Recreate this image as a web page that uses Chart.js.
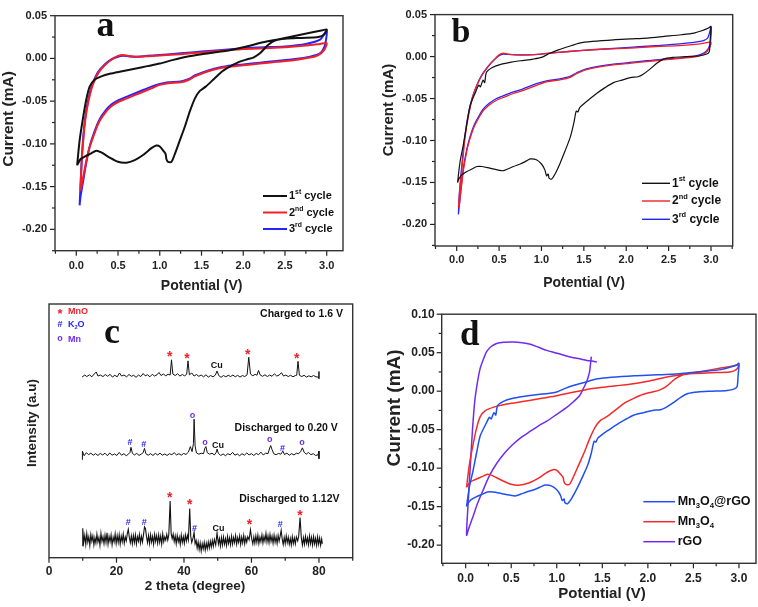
<!DOCTYPE html>
<html>
<head>
<meta charset="utf-8">
<script src="https://cdn.jsdelivr.net/npm/chart.js@4.4.0/dist/chart.umd.min.js"></script>
<style>
  body { margin: 0; background: #fff; width: 758px; height: 607px; position: relative; overflow: hidden; }
  canvas { position: absolute; }
</style>
</head>
<body>
<canvas id="ca" width="380" height="300" style="left:0;top:0"></canvas>
<canvas id="cb" width="378" height="300" style="left:380px;top:0"></canvas>
<canvas id="cc" width="380" height="307" style="left:0;top:300px"></canvas>
<canvas id="cd" width="378" height="307" style="left:380px;top:300px"></canvas>
<script>
// ---- data (potential V, current mA) ----
const cvXTicks = [0, 0.5, 1.0, 1.5, 2.0, 2.5, 3.0];
const cvYTicks = [0.05, 0, -0.05, -0.10, -0.15, -0.20];
const dYTicks = [0.10, 0.05, 0, -0.05, -0.10, -0.15, -0.20];
const xrdTicks = [0, 20, 40, 60, 80];

const aCycle1 = [[0.01,-0.125],[0.04,-0.096],[0.08,-0.07],[0.12,-0.048],[0.16,-0.033],[0.22,-0.025],[0.3,-0.021],[0.4,-0.018],[0.55,-0.015],[0.7,-0.012],[0.85,-0.009],[1.0,-0.006],[1.15,-0.002],[1.32,0.002],[1.5,0.005],[1.65,0.007],[1.8,0.009],[2.0,0.013],[2.2,0.018],[2.4,0.022],[2.6,0.026],[2.8,0.030],[2.95,0.033],[3.0,0.034],
  [2.97,0.028],[2.9,0.025],[2.7,0.024],[2.5,0.023],[2.38,0.021],[2.3,0.016],[2.2,0.006],[2.12,0.001],[2.05,-0.001],[1.95,-0.004],[1.85,-0.009],[1.75,-0.015],[1.65,-0.024],[1.55,-0.033],[1.48,-0.038],[1.42,-0.047],[1.36,-0.062],[1.3,-0.08],[1.24,-0.096],[1.18,-0.112],[1.14,-0.121],[1.1,-0.121],[1.08,-0.118],[1.07,-0.112],[1.05,-0.109],[1.0,-0.103],[0.96,-0.102],[0.9,-0.105],[0.8,-0.113],[0.7,-0.119],[0.6,-0.122],[0.5,-0.121],[0.4,-0.116],[0.3,-0.110],[0.24,-0.108],[0.18,-0.111],[0.1,-0.115],[0.05,-0.118],[0.01,-0.125]];
const aCycle2 = [[0.05,-0.155],[0.06,-0.13],[0.08,-0.1],[0.11,-0.07],[0.15,-0.048],[0.2,-0.03],[0.27,-0.016],[0.35,-0.007],[0.43,-0.001],[0.5,0.003],[0.56,0.004],[0.62,0.003],[0.72,0.002],[0.85,0.0025],[1.0,0.0035],[1.25,0.005],[1.5,0.007],[1.75,0.009],[2.0,0.011],[2.25,0.012],[2.5,0.013],[2.75,0.015],[2.92,0.017],[3.0,0.018],
  [2.97,0.010],[2.9,0.004],[2.8,0.001],[2.6,-0.002],[2.4,-0.004],[2.2,-0.006],[2.0,-0.008],[1.8,-0.010],[1.65,-0.013],[1.52,-0.017],[1.42,-0.021],[1.35,-0.025],[1.25,-0.028],[1.1,-0.029],[1.0,-0.031],[0.9,-0.035],[0.8,-0.039],[0.7,-0.043],[0.6,-0.047],[0.5,-0.051],[0.42,-0.056],[0.35,-0.063],[0.28,-0.073],[0.22,-0.087],[0.16,-0.104],[0.12,-0.12],[0.08,-0.14],[0.05,-0.155]];
const aCycle3 = [[0.04,-0.172],[0.05,-0.15],[0.07,-0.11],[0.1,-0.075],[0.14,-0.05],[0.19,-0.031],[0.26,-0.016],[0.34,-0.007],[0.42,-0.001],[0.5,0.002],[0.56,0.003],[0.62,0.0025],[0.72,0.002],[0.85,0.003],[1.0,0.004],[1.25,0.006],[1.5,0.008],[1.75,0.010],[2.0,0.012],[2.25,0.013],[2.5,0.014],[2.75,0.017],[2.92,0.022],[3.0,0.033],
  [2.98,0.016],[2.92,0.006],[2.8,0.002],[2.6,-0.001],[2.4,-0.003],[2.2,-0.005],[2.0,-0.007],[1.8,-0.009],[1.65,-0.012],[1.52,-0.016],[1.42,-0.020],[1.35,-0.024],[1.25,-0.027],[1.1,-0.028],[1.0,-0.030],[0.9,-0.033],[0.8,-0.037],[0.7,-0.041],[0.6,-0.045],[0.5,-0.049],[0.42,-0.054],[0.35,-0.061],[0.28,-0.071],[0.22,-0.085],[0.16,-0.103],[0.12,-0.122],[0.08,-0.145],[0.05,-0.162],[0.04,-0.172]];

const bCycle1 = [[0.01,-0.15],[0.04,-0.125],[0.08,-0.104],[0.12,-0.08],[0.16,-0.058],[0.22,-0.043],[0.26,-0.034],[0.28,-0.036],[0.31,-0.028],[0.33,-0.031],[0.35,-0.019],[0.42,-0.013],[0.51,-0.0096],[0.63,-0.007],[0.75,-0.005],[0.9,-0.003],[1.0,-0.001],[1.1,0.004],[1.2,0.008],[1.32,0.012],[1.45,0.016],[1.6,0.018],[1.85,0.020],[2.05,0.021],[2.25,0.022],[2.45,0.024],[2.65,0.026],[2.8,0.028],[2.9,0.031],[2.97,0.034],[3.0,0.036],
  [2.99,0.02],[2.98,0.006],[2.95,0.003],[2.87,0.001],[2.7,0.0],[2.55,-0.001],[2.44,-0.003],[2.36,-0.008],[2.28,-0.015],[2.2,-0.021],[2.14,-0.024],[2.05,-0.025],[1.95,-0.028],[1.85,-0.031],[1.75,-0.037],[1.65,-0.044],[1.55,-0.052],[1.48,-0.058],[1.45,-0.061],[1.43,-0.066],[1.41,-0.065],[1.38,-0.080],[1.34,-0.096],[1.28,-0.112],[1.22,-0.127],[1.16,-0.14],[1.12,-0.146],[1.09,-0.145],[1.08,-0.140],[1.06,-0.142],[1.04,-0.135],[1.0,-0.128],[0.94,-0.123],[0.87,-0.122],[0.83,-0.124],[0.75,-0.128],[0.67,-0.131],[0.6,-0.134],[0.55,-0.136],[0.48,-0.135],[0.39,-0.133],[0.3,-0.131],[0.24,-0.131],[0.18,-0.134],[0.12,-0.137],[0.06,-0.141],[0.03,-0.145],[0.01,-0.15]];
const bCycle2 = [[0.02,-0.18],[0.04,-0.155],[0.07,-0.125],[0.1,-0.095],[0.14,-0.07],[0.19,-0.048],[0.24,-0.034],[0.3,-0.022],[0.37,-0.012],[0.44,-0.004],[0.5,0.002],[0.55,0.004],[0.6,0.003],[0.7,0.002],[0.85,0.002],[1.0,0.003],[1.2,0.005],[1.45,0.007],[1.75,0.009],[2.04,0.010],[2.35,0.012],[2.63,0.013],[2.87,0.015],[3.0,0.017],
  [2.98,0.010],[2.93,0.004],[2.83,0.0],[2.65,-0.002],[2.44,-0.004],[2.24,-0.006],[2.04,-0.008],[1.85,-0.010],[1.65,-0.013],[1.52,-0.016],[1.42,-0.020],[1.33,-0.025],[1.2,-0.028],[1.06,-0.030],[0.95,-0.034],[0.87,-0.037],[0.77,-0.041],[0.67,-0.044],[0.57,-0.048],[0.47,-0.052],[0.38,-0.058],[0.31,-0.065],[0.25,-0.075],[0.2,-0.085],[0.15,-0.1],[0.12,-0.112],[0.08,-0.135],[0.05,-0.16],[0.03,-0.178],[0.02,-0.18]];
const bCycle3 = [[0.02,-0.188],[0.03,-0.165],[0.06,-0.13],[0.09,-0.1],[0.13,-0.072],[0.18,-0.05],[0.23,-0.036],[0.29,-0.023],[0.36,-0.013],[0.43,-0.005],[0.5,0.001],[0.55,0.003],[0.6,0.0025],[0.7,0.002],[0.85,0.002],[1.0,0.003],[1.2,0.005],[1.45,0.007],[1.75,0.009],[2.04,0.011],[2.35,0.013],[2.63,0.015],[2.87,0.018],[2.96,0.022],[3.0,0.035],
  [2.99,0.015],[2.94,0.006],[2.83,0.001],[2.65,-0.0015],[2.44,-0.003],[2.24,-0.005],[2.04,-0.007],[1.85,-0.009],[1.65,-0.012],[1.52,-0.015],[1.42,-0.019],[1.33,-0.024],[1.2,-0.027],[1.06,-0.029],[0.95,-0.032],[0.87,-0.035],[0.77,-0.039],[0.67,-0.042],[0.57,-0.046],[0.47,-0.050],[0.38,-0.056],[0.31,-0.063],[0.25,-0.073],[0.2,-0.083],[0.15,-0.098],[0.12,-0.11],[0.08,-0.132],[0.05,-0.158],[0.03,-0.178],[0.02,-0.188]];

// panel d: the composite and bare Mn3O4 first cycles, plus rGO
const dComposite = bCycle1;
const dMn3O4 = aCycle1;
const dRGO = [[1.38,0.045],[1.37,0.035],[1.36,0.025],[1.33,0.013],[1.29,0.003],[1.25,-0.006],[1.18,-0.014],[1.11,-0.021],[1.0,-0.03],[0.89,-0.039],[0.8,-0.045],[0.71,-0.052],[0.61,-0.06],[0.52,-0.069],[0.43,-0.08],[0.34,-0.094],[0.26,-0.11],[0.19,-0.129],[0.13,-0.146],[0.08,-0.163],[0.04,-0.176],[0.01,-0.187],[0.03,-0.14],[0.05,-0.099],[0.075,-0.05],[0.1,-0.013],[0.13,0.012],[0.16,0.030],[0.2,0.043],[0.23,0.0515],[0.28,0.058],[0.34,0.062],[0.42,0.0635],[0.52,0.064],[0.62,0.063],[0.71,0.061],[0.8,0.057],[0.89,0.053],[0.98,0.050],[1.07,0.047],[1.16,0.044],[1.25,0.042],[1.33,0.040],[1.40,0.039],[1.44,0.038]];

// panel c: XRD (2 theta, intensity a.u.)
const cCharged = [[9.8,71.2],[10.6,72.0],[11.2,71.4],[12,72.1],[12.7,71.3],[13.4,72.4],[14,73.2],[14.5,71.6],[15.2,72.0],[16,71.4],[16.7,72.2],[17.4,71.5],[18.1,72.3],[18.8,71.2],[19.5,71.9],[20.2,71.3],[20.9,72.8],[21.5,71.6],[22.2,72.0],[23,71.3],[23.7,72.2],[24.4,71.5],[25.1,71.9],[25.8,71.1],[26.5,72.0],[27.2,71.4],[27.9,72.6],[28.5,71.7],[29.2,72.1],[29.9,71.3],[30.6,72.3],[31.3,71.6],[32,72.1],[32.6,73.0],[33.2,71.8],[33.9,72.4],[34.6,71.7],[35.3,72.3],[35.9,72.0],[36.3,78.0],[36.7,72.4],[37.4,71.8],[38.1,72.5],[38.8,71.6],[39.5,72.2],[40.2,71.7],[40.8,72.3],[41.2,77.6],[41.6,72.1],[42.3,72.8],[43,71.6],[43.7,72.2],[44.4,71.5],[45.1,72.0],[45.8,71.3],[46.5,72.1],[47.2,71.2],[47.9,71.8],[48.6,71.3],[49.3,72.0],[49.8,73.6],[50.3,71.8],[51,71.1],[51.7,71.8],[52.4,71.3],[53.1,71.9],[53.8,71.4],[54.5,72.0],[55.2,71.3],[55.9,71.9],[56.6,71.2],[57.3,71.8],[58,71.4],[58.7,72.1],[59.2,79.0],[59.7,72.4],[60.4,71.7],[61.1,72.3],[61.6,71.9],[62.1,73.8],[62.6,72.0],[63.3,71.5],[64,72.1],[64.7,71.4],[65.4,72.0],[66.1,71.5],[66.8,72.5],[67.5,71.6],[68.2,72.0],[68.9,72.9],[69.5,71.6],[70.2,72.0],[70.9,71.4],[71.6,71.9],[72.3,71.3],[73,71.8],[73.4,71.9],[73.8,77.4],[74.2,71.9],[74.9,71.4],[75.6,71.9],[76.3,71.2],[77,71.7],[77.7,71.3],[78.4,71.8],[79.1,71.3],[79.8,71.2],[80,73.4],[80,70.6]];
const cDis020 = [[9.9,38.6],[9.9,42.0],[10.4,40.2],[11.1,41.4],[11.7,40.6],[12.4,41.2],[13.1,40.4],[13.8,41.0],[14.5,40.3],[15.2,41.1],[15.9,40.5],[16.6,41.2],[17.3,40.2],[18,41.3],[18.7,40.4],[19.4,40.9],[20.1,40.3],[20.8,41.5],[21.5,40.4],[22.2,41.0],[22.9,40.2],[23.6,40.9],[24.0,41.5],[24.3,43.5],[24.7,41.2],[25.3,40.5],[26,41.1],[26.7,40.3],[27.4,40.9],[27.9,41.4],[28.3,43.1],[28.7,41.0],[29.4,40.4],[30.1,41.0],[30.8,40.3],[31.5,41.1],[32.2,40.5],[32.9,41.2],[33.6,40.4],[34.3,40.9],[35,40.3],[35.7,41.0],[36.4,40.6],[37.1,41.4],[37.8,40.5],[38.5,41.0],[39.2,40.4],[39.9,41.1],[40.6,40.7],[41.3,41.6],[41.9,43.8],[42.4,41.8],[42.8,45.0],[43.0,54.6],[43.3,44.0],[43.7,41.3],[44.4,40.8],[45.1,41.2],[45.8,41.0],[46.2,43.2],[46.5,43.8],[46.9,41.4],[47.6,40.8],[48.3,41.2],[49,40.5],[49.5,41.4],[49.8,42.8],[50.2,41.1],[50.9,40.3],[51.6,40.9],[52.3,40.2],[53,41.0],[53.7,40.5],[54.4,41.5],[55.1,40.4],[55.8,40.9],[56.5,40.2],[57.2,41.0],[57.9,40.4],[58.6,41.3],[59.3,40.5],[60,41.0],[60.7,40.3],[61.4,41.1],[62.1,40.6],[62.8,41.6],[63.5,40.5],[64.2,41.2],[64.9,41.0],[65.4,43.2],[65.7,44.2],[66.1,42.6],[66.6,41.0],[67.3,40.6],[68,41.1],[68.7,40.8],[69.3,42.0],[69.8,40.7],[70.5,41.2],[71.2,40.4],[71.9,41.0],[72.6,40.5],[73.3,41.2],[74,41.0],[74.6,41.9],[75.1,43.3],[75.6,41.6],[76.2,40.8],[76.9,41.5],[77.6,40.6],[78.3,41.0],[79,40.3],[79.7,40.5],[80,42.0],[80,39.0]];
const cDis112 = [[10,4.5],[10,11.6],[10.3,6],[10.6,8.8],[10.9,5.2],[11.2,9.5],[11.5,6.1],[11.8,8.2],[12.1,4.8],[12.4,9.1],[12.7,6.5],[13,8.6],[13.3,5.0],[13.6,7.9],[13.9,5.8],[14.2,9.3],[14.5,6.2],[14.8,8.0],[15.1,4.9],[15.4,9.6],[15.7,6.4],[16,8.3],[16.3,5.5],[16.6,8.9],[16.9,6.0],[17.2,9.8],[17.5,5.3],[17.8,8.4],[18.1,6.3],[18.4,9.0],[18.7,5.1],[19,8.1],[19.3,6.2],[19.6,9.4],[19.9,5.6],[20.2,8.7],[20.5,6.0],[20.8,9.1],[21.1,5.4],[21.4,8.5],[21.7,6.3],[22,9.3],[22.3,5.7],[22.6,8.2],[22.9,6.6],[23.2,9.5],[23.5,11.2],[23.8,8.0],[24.1,5.9],[24.4,8.6],[24.7,5.5],[25,8.8],[25.3,6.0],[25.6,9.0],[25.9,5.4],[26.2,8.3],[26.5,6.5],[26.8,9.2],[27.1,5.8],[27.4,8.5],[27.7,6.2],[28.0,9.0],[28.3,12.1],[28.6,11.4],[28.9,8.2],[29.2,5.9],[29.5,8.8],[29.8,5.6],[30.1,9.1],[30.4,6.1],[30.7,8.4],[31,5.3],[31.3,9.2],[31.6,6.4],[31.9,8.7],[32.2,5.7],[32.5,9.0],[32.8,6.0],[33.1,8.6],[33.4,5.4],[33.7,9.4],[34,6.3],[34.3,8.2],[34.6,6.9],[34.9,9.2],[35.2,7.0],[35.5,9.0],[35.9,22.3],[36.2,9.5],[36.5,7.5],[36.8,9.3],[37.1,6.4],[37.4,8.6],[37.7,5.5],[38,8.8],[38.3,6.3],[38.6,8.1],[38.9,5.2],[39.2,8.9],[39.5,6.0],[39.8,8.3],[40.1,5.7],[40.4,9.0],[40.7,6.5],[41.0,8.8],[41.3,7.0],[41.7,19.4],[42.0,8.5],[42.3,6.0],[42.7,7.8],[43.0,10.0],[43.3,5.5],[43.6,6.8],[43.9,3.8],[44.2,6.2],[44.5,3.2],[44.8,5.8],[45.1,2.6],[45.4,5.5],[45.7,3.4],[46,6.0],[46.3,3.0],[46.6,5.7],[46.9,3.5],[47.2,6.2],[47.5,3.8],[47.8,6.5],[48.1,4.2],[48.4,6.8],[48.7,4.5],[49,7.2],[49.4,5.0],[49.8,9.8],[50.2,5.4],[50.5,7.6],[50.8,4.6],[51.1,7.9],[51.4,5.0],[51.7,8.2],[52,5.3],[52.3,7.5],[52.6,4.8],[52.9,8.4],[53.2,5.6],[53.5,7.8],[53.8,5.1],[54.1,8.5],[54.4,5.4],[54.7,8.0],[55,5.9],[55.3,8.7],[55.6,5.3],[55.9,7.9],[56.2,6.0],[56.5,8.6],[56.8,5.2],[57.1,8.1],[57.4,5.8],[57.7,8.8],[58,5.5],[58.3,8.0],[58.6,6.1],[58.9,8.3],[59.3,7.0],[59.7,11.0],[60.1,7.2],[60.4,5.4],[60.7,8.2],[61,5.7],[61.3,8.6],[61.6,6.0],[61.9,8.9],[62.2,5.6],[62.5,8.1],[62.8,6.3],[63.1,9.0],[63.4,5.8],[63.7,8.4],[64,6.5],[64.3,9.6],[64.6,6.2],[64.9,8.7],[65.2,5.9],[65.5,9.2],[65.8,6.4],[66.1,8.5],[66.4,5.7],[66.7,8.9],[67,6.1],[67.3,8.3],[67.6,5.6],[67.9,8.8],[68.2,6.5],[68.5,8.5],[68.8,10.8],[69.1,7.4],[69.4,5.2],[69.7,8.0],[70,5.5],[70.3,8.6],[70.6,5.9],[70.9,8.1],[71.2,5.3],[71.5,7.6],[71.8,5.0],[72.1,8.3],[72.4,5.6],[72.7,7.8],[73,5.4],[73.3,8.2],[73.7,6.6],[74.0,8.5],[74.4,15.8],[74.8,7.5],[75.1,5.0],[75.4,7.9],[75.7,5.3],[76,8.4],[76.3,5.7],[76.6,7.8],[76.9,5.1],[77.2,8.6],[77.5,5.5],[77.8,8.0],[78.1,5.0],[78.4,8.3],[78.7,5.4],[79,7.7],[79.3,4.9],[79.6,8.2],[79.9,5.3],[80.2,7.8],[80.5,4.9],[80.8,7.4],[81,5.5]];

// peak markers in panel c
const cStars = [[35.8,80.2],[40.9,79.6],[58.9,81.1],[73.4,79.6],[35.8,24.7],[41.7,21.8],[59.4,14.2],[74.4,17.5]];
const cHashes = [[24.0,45.3],[28.1,44.8],[69.2,43.1],[23.5,13.8],[28.2,13.9],[43.1,11.4],[68.5,12.9]];
const cRings = [[42.5,56.2],[46.2,45.5],[65.4,46.4],[75.0,45.5]];
const cCu = [[49.7,75.8],[50.1,44.4],[50.2,11.4]];
const cLabels = [['Charged to 1.6 V', 87.1, 96.1], ['Discharged to 0.20 V', 85.6, 51.2], ['Discharged to 1.12V', 86.1, 23.0]];

const FONT = '"Liberation Sans", Arial, sans-serif';
const RED = '#f0202a', BLUE = '#2424ff', PURPLE = '#6f2cf0';

// text with ^{sup} and _{sub}
function parseRich(s) {
  const out = []; let i = 0, m;
  const re = /([\^_])\{([^}]*)\}/g;
  while ((m = re.exec(s))) {
    if (m.index > i) out.push([s.slice(i, m.index), 0]);
    out.push([m[2], m[1] === '^' ? 1 : -1]);
    i = re.lastIndex;
  }
  if (i < s.length) out.push([s.slice(i), 0]);
  return out;
}
function drawRich(ctx, s, x, y, size, color, align) {
  const parts = parseRich(s), small = size * 0.62;
  let w = 0;
  parts.forEach(p => { ctx.font = 'bold ' + (p[1] ? small : size) + 'px ' + FONT; w += ctx.measureText(p[0]).width; });
  let cx = align === 'right' ? x - w : align === 'center' ? x - w / 2 : x;
  ctx.fillStyle = color; ctx.textBaseline = 'middle'; ctx.textAlign = 'left';
  parts.forEach(p => {
    ctx.font = 'bold ' + (p[1] ? small : size) + 'px ' + FONT;
    const dy = p[1] === 1 ? -size * 0.35 : p[1] === -1 ? size * 0.3 : 0;
    ctx.fillText(p[0], cx, y + dy);
    cx += ctx.measureText(p[0]).width;
  });
}

const panelPlugin = {
  id: 'panel',
  afterDraw(chart, args, o) {
    const ctx = chart.ctx, a = chart.chartArea;
    ctx.save();
    ctx.strokeStyle = '#222'; ctx.lineWidth = 1.2;
    ['x', 'y'].forEach(id => {
      const sc = chart.scales[id], m = o.minor[id];
      if (!m) return;
      const majors = sc.ticks.map(t => t.value);
      for (let k = Math.ceil(sc.min / m - 1e-6); k * m <= sc.max + 1e-9; k++) {
        const v = k * m;
        const len = majors.some(t => Math.abs(t - v) < m / 10) ? 5 : 3;
        const p = sc.getPixelForValue(v);
        ctx.beginPath();
        if (id === 'x') { ctx.moveTo(p, a.bottom); ctx.lineTo(p, a.bottom + len); }
        else { ctx.moveTo(a.left, p); ctx.lineTo(a.left - len, p); }
        ctx.stroke();
      }
    });
    ctx.strokeStyle = '#333'; ctx.lineWidth = 1.4;
    ctx.strokeRect(a.left, a.top, a.right - a.left, a.bottom - a.top);

    // axis titles
    drawRich(ctx, o.xTitle[0], o.xTitle[1], o.xTitle[2], o.xTitle[3], '#222', 'center');
    ctx.save();
    ctx.translate(o.yTitle[1], o.yTitle[2]); ctx.rotate(-Math.PI / 2);
    drawRich(ctx, o.yTitle[0], 0, 0, o.yTitle[3], '#222', 'center');
    ctx.restore();

    // panel letter
    ctx.font = 'bold ' + o.letter[3] + 'px "Liberation Serif", "Times New Roman", serif';
    ctx.fillStyle = '#111'; ctx.textBaseline = 'alphabetic'; ctx.textAlign = 'left';
    ctx.fillText(o.letter[0], o.letter[1], o.letter[2]);

    // legend with line samples
    if (o.legend) {
      const L = o.legend;
      chart.data.datasets.forEach((ds, i) => {
        const y = L.ys[i];
        ctx.strokeStyle = ds.borderColor; ctx.lineWidth = L.lw;
        ctx.beginPath(); ctx.moveTo(L.x0, y); ctx.lineTo(L.x1, y); ctx.stroke();
        drawRich(ctx, ds.label, L.tx, y, L.size, '#111', 'left');
      });
    }
    if (o.extra) o.extra(chart, ctx);
    ctx.restore();
  }
};

function cvChart(id, sets, c) {
  return new Chart(document.getElementById(id), {
    type: 'scatter',
    data: {
      datasets: sets.map(s => ({
        label: s.label, data: s.pts.map(p => ({ x: p[0], y: p[1] })),
        borderColor: s.color, showLine: true, pointRadius: 0,
        borderWidth: s.width, tension: s.tension === undefined ? 0.25 : s.tension, fill: false
      }))
    },
    options: {
      responsive: false, animation: false,
      layout: { padding: c.pad },
      plugins: { legend: { display: false }, tooltip: { enabled: false }, panel: c.panel },
      scales: {
        x: {
          type: 'linear', min: c.x[0], max: c.x[1],
          afterBuildTicks: s => { s.ticks = c.xTicks.map(v => ({ value: v })); },
          afterFit: s => { s.height = c.xH; },
          grid: { display: false, drawTicks: false }, border: { display: false },
          ticks: { padding: c.xPad, color: '#222', font: { size: c.tick, weight: 'bold', family: FONT },
                   autoSkip: false, maxRotation: 0, callback: c.xFmt }
        },
        y: {
          type: 'linear', min: c.y[0], max: c.y[1],
          afterBuildTicks: s => { s.ticks = c.yTicks.map(v => ({ value: v })); },
          afterFit: s => { s.width = c.yW; },
          grid: { display: false, drawTicks: false }, border: { display: false },
          ticks: { display: c.yTicks.length > 0, padding: c.yPad, color: '#222',
                   font: { size: c.tick, weight: 'bold', family: FONT }, autoSkip: false,
                   callback: v => v.toFixed(2) }
        }
      }
    },
    plugins: [panelPlugin]
  });
}

const fmt1 = v => v.toFixed(1);

// a
cvChart('ca', [
  { label: '1^{st} cycle', pts: aCycle1, color: '#111', width: 2 },
  { label: '2^{nd} cycle', pts: aCycle2, color: RED, width: 2 },
  { label: '3^{rd} cycle', pts: aCycle3, color: BLUE, width: 2 }
], {
  pad: { left: 0, right: 37, top: 15.7, bottom: 0 }, xH: 49.3, yW: 55,
  x: [-0.255, 3.195], y: [-0.225, 0.05], xTicks: cvXTicks, yTicks: cvYTicks, xFmt: fmt1,
  tick: 11, xPad: 9, yPad: 8,
  panel: {
    minor: { x: 0.25, y: 0.025 },
    xTitle: ['Potential (V)', 201.7, 286, 14], yTitle: ['Current (mA)', 8.5, 119, 15.5],
    letter: ['a', 96.5, 36, 36],
    legend: { x0: 263, x1: 287, tx: 289, ys: [196, 212.5, 229], size: 11, lw: 2 }
  }
});

// b
cvChart('cb', [
  { label: '1^{st} cycle', pts: bCycle1, color: '#111', width: 1.2 },
  { label: '2^{nd} cycle', pts: bCycle2, color: RED, width: 1.3 },
  { label: '3^{rd} cycle', pts: bCycle3, color: BLUE, width: 1.3 }
], {
  pad: { left: 0, right: 25.3, top: 6.7, bottom: 0 }, xH: 54, yW: 55,
  x: [-0.256, 3.256], y: [-0.2257, 0.05], xTicks: cvXTicks, yTicks: cvYTicks, xFmt: fmt1,
  tick: 11, xPad: 7, yPad: 8,
  panel: {
    minor: { x: 0.25, y: 0.025 },
    xTitle: ['Potential (V)', 204, 282.7, 14], yTitle: ['Current (mA)', 8.5, 110, 15],
    letter: ['b', 71.5, 41.7, 34],
    legend: { x0: 262, x1: 290, tx: 292, ys: [183.3, 201, 219.3], size: 12, lw: 1.4 }
  }
});

// c
cvChart('cc', [
  { label: 'Charged to 1.6 V', pts: cCharged, color: '#111', width: 1, tension: 0 },
  { label: 'Discharged to 0.20 V', pts: cDis020, color: '#111', width: 1, tension: 0 },
  { label: 'Discharged to 1.12V', pts: cDis112, color: '#111', width: 1.1, tension: 0 }
], {
  pad: { left: 0, right: 27.3, top: 4, bottom: 0 }, xH: 49.3, yW: 49,
  x: [0, 90], y: [0, 100], xTicks: xrdTicks, yTicks: [], xFmt: v => String(v),
  tick: 12, xPad: 7, yPad: 8,
  panel: {
    minor: { x: 10 },
    xTitle: ['2 theta (degree)', 195, 286, 13.5], yTitle: ['Intensity (a.u)', 32.5, 123, 13.5],
    letter: ['c', 104, 42.7, 36],
    extra: (chart, ctx) => {
      const X = v => chart.scales.x.getPixelForValue(v), Y = v => chart.scales.y.getPixelForValue(v);
      ctx.textAlign = 'center'; ctx.textBaseline = 'middle';
      ctx.fillStyle = RED; ctx.font = 'bold 14px ' + FONT;
      cStars.forEach(p => ctx.fillText('*', X(p[0]), Y(p[1]) + 3));
      ctx.fillStyle = BLUE; ctx.font = 'bold 9px ' + FONT;
      cHashes.forEach(p => ctx.fillText('#', X(p[0]), Y(p[1])));
      ctx.fillStyle = PURPLE; ctx.font = 'bold 9px ' + FONT;
      cRings.forEach(p => ctx.fillText('o', X(p[0]), Y(p[1])));
      ctx.fillStyle = '#111'; ctx.font = 'bold 9px ' + FONT;
      cCu.forEach(p => ctx.fillText('Cu', X(p[0]), Y(p[1])));
      cLabels.forEach(l => drawRich(ctx, l[0], X(l[1]), Y(l[2]), 10.5, '#111', 'right'));
      // symbol key
      ctx.textAlign = 'center';
      ctx.fillStyle = RED; ctx.font = 'bold 13px ' + FONT; ctx.fillText('*', 60, 14);
      ctx.fillStyle = BLUE; ctx.font = 'bold 9px ' + FONT; ctx.fillText('#', 60, 25);
      ctx.fillStyle = PURPLE; ctx.fillText('o', 60, 39);
      drawRich(ctx, 'MnO', 68, 11.7, 9, RED, 'left');
      drawRich(ctx, 'K_{2}O', 68, 25, 9, BLUE, 'left');
      drawRich(ctx, 'Mn', 68, 39.5, 9, PURPLE, 'left');
    }
  }
});

// d
cvChart('cd', [
  { label: 'Mn_{3}O_{4}@rGO', pts: dComposite, color: '#2050f0', width: 1.5 },
  { label: 'Mn_{3}O_{4}', pts: dMn3O4, color: '#f42a2a', width: 1.5 },
  { label: 'rGO', pts: dRGO, color: PURPLE, width: 1.5 }
], {
  pad: { left: 0, right: 2, top: 12.3, bottom: 0 }, xH: 43.7, yW: 61.7,
  x: [-0.263, 3.187], y: [-0.2236, 0.10], xTicks: cvXTicks, yTicks: dYTicks, xFmt: fmt1,
  tick: 12, xPad: 8, yPad: 7,
  panel: {
    minor: { x: 0.25, y: 0.025 },
    xTitle: ['Potential (V)', 222, 294, 15], yTitle: ['Current (mA)', 15, 108, 19],
    letter: ['d', 80, 45, 35],
    legend: { x0: 263.3, x1: 295, tx: 297.7, ys: [201.7, 221.7, 241.7], size: 12.5, lw: 1.5 }
  }
});
</script>
</body>
</html>
